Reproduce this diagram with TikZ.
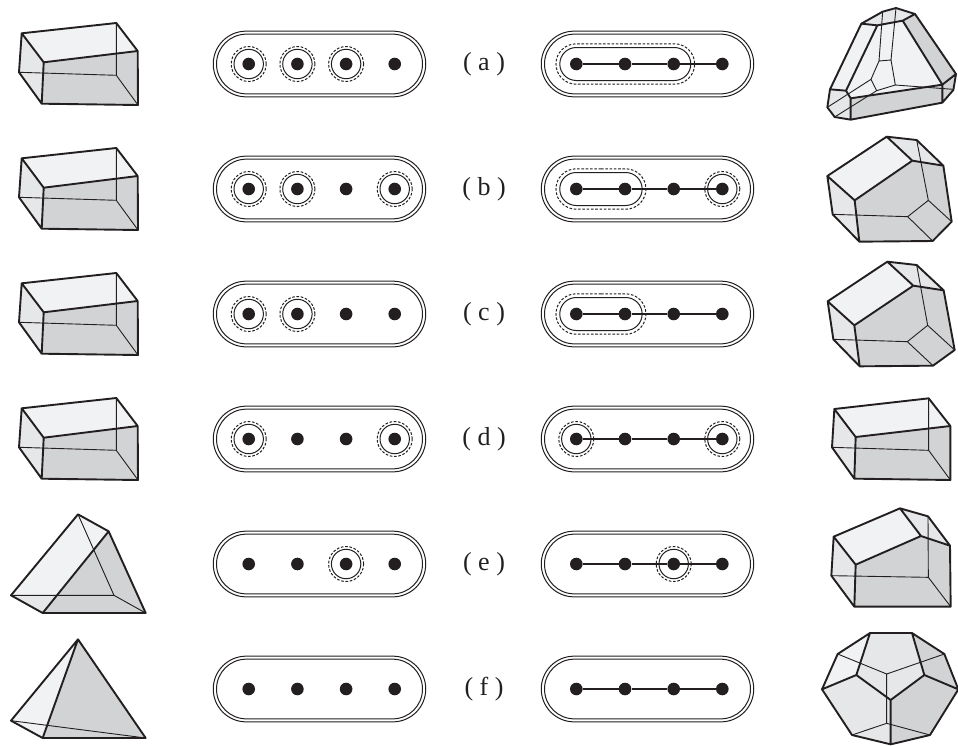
\documentclass[tikz,border=0pt]{standalone}
\usepackage{fontspec}
\setmainfont{Liberation Serif}
\usetikzlibrary{shapes.misc,calc}
\definecolor{ink}{HTML}{231F20}
\definecolor{lightf}{HTML}{F1F2F3}
\definecolor{midf}{HTML}{E6E7E8}
\definecolor{darkf}{HTML}{D1D3D4}
\tikzset{
  heavy/.style={draw=ink,line width=1.9pt,line join=round,line cap=round},
  fine/.style={draw=ink,line width=.9pt,line cap=round},
  dotn/.style={circle,fill=ink,inner sep=0pt,minimum size=12.6pt},
  capsule/.style={rounded rectangle,draw=ink,line width=1pt,inner sep=0pt},
  outercap/.style={capsule,minimum width=212.5pt,minimum height=65.7pt},
  innercap/.style={capsule,minimum width=206pt,minimum height=59.7pt},
  ringsolid/.style={circle,draw=ink,line width=1pt,inner sep=0pt,minimum size=29.4pt},
  ringdash/.style={circle,draw=ink,line width=1pt,dash pattern=on 2.6pt off 1.7pt,inner sep=0pt,minimum size=35pt},
  grpsolid/.style={capsule,minimum height=33pt},
  grpdash/.style={capsule,minimum height=40.4pt,dash pattern=on 2.6pt off 1.7pt},
  bond/.style={draw=ink,line width=1.6pt},
  lab/.style={font=\fontsize{26}{26}\selectfont,inner sep=0pt,text=ink},
  zoomed/.style={x=.33333pt,y=-.33333pt}
}
% one schema: prefix, x-offset of first dot, y
\newcommand\capsules[3]{%
  \node[outercap] (#1o) at (#2,#3) {};
  \node[innercap] (#1i) at (#2,#3) {};
}
\newcommand\fourdots[3]{%
  \node[dotn] (#11) at (#2,#3) {};
  \node[dotn] (#12) at (#2+48.7,#3) {};
  \node[dotn] (#13) at (#2+97.4,#3) {};
  \node[dotn] (#14) at (#2+146,#3) {};
}
\newcommand\bonds[1]{\draw[bond] (#11) -- (#12) -- (#13) -- (#14);}
\newcommand\ring[1]{%
  \node[ringsolid] (#1s) at (#1) {};
  \node[ringdash] (#1d) at (#1) {};
}
\newcommand\grpthree[1]{%
  \node[grpsolid,minimum width=131pt] (#1gs) at ($(#11)!.5!(#13)+(.3,0)$) {};
  \node[grpdash,minimum width=138.7pt] (#1gd) at ($(#11)!.5!(#13)+(.3,0)$) {};
}
\newcommand\grptwo[1]{%
  \node[grpsolid,minimum width=82.4pt] (#1gs) at ($(#11)!.5!(#12)+(.3,0)$) {};
  \node[grpdash,minimum width=90pt] (#1gd) at ($(#11)!.5!(#12)+(.3,0)$) {};
}
% prism: A B C D E F G H
\newcommand\prism[8]{%
  \fill[lightf] #1--#2--#3--#4--cycle;
  \fill[midf] #1--#4--#6--#5--cycle;
  \fill[darkf] #4--#3--#7--#6--cycle;
  \draw[fine] #5--#8 #2--#8--#7;
  \draw[heavy] #1--#2--#3--#4--cycle #4--#6 #1--#5--#6--#7--#3;
}
\begin{document}
\begin{tikzpicture}[x=1pt,y=-1pt]
\useasboundingbox (0,0) rectangle (958,745);
% ---- left column prisms
\prism{(21.7,33.3)}{(116.3,23)}{(137.7,51)}{(43.7,62.3)}{(19,72.3)}{(41.7,103.7)}{(138,105)}{(116.3,75.3)}
\prism{(21.7,158.3)}{(116.3,148)}{(137.7,176)}{(43.7,187.7)}{(19,197.3)}{(41.7,228.7)}{(138,230)}{(116.3,200.3)}
\prism{(21.7,283.3)}{(116.3,273)}{(137.7,301)}{(43.7,312.3)}{(19,322.3)}{(41.7,353.7)}{(138,355)}{(116.3,325.3)}
\prism{(21.7,408.3)}{(116.3,398)}{(137.7,426)}{(43.7,437.7)}{(19,447.3)}{(41.7,478.7)}{(138,480)}{(116.3,450.3)}
% row e left
\begin{scope}[shift={(0,490)},zoomed]
\fill[lightf] (33,316)--(234,73)--(326,124)--(128,369)--cycle;
\fill[midf] (33,316)--(128,369)--(170,316)--cycle;
\fill[darkf] (326,124)--(437,369)--(128,369)--cycle;
\draw[fine] (33,316)--(342,316) (234,73)--(342,316)--(437,369);
\draw[heavy] (33,316)--(234,73)--(326,124)--(437,369)--(128,369)--cycle (326,124)--(128,369);
\end{scope}
% row f left
\begin{scope}[shift={(0,490)},zoomed]
\fill[lightf] (33,692)--(234,448)--(128,744)--cycle;
\fill[darkf] (234,448)--(437,744)--(128,744)--cycle;
\draw[fine] (33,692)--(437,744);
\draw[heavy] (33,692)--(234,448)--(437,744)--(128,744)--cycle (234,448)--(128,744);
\end{scope}
% ---- right column
% row a
\begin{scope}[shift={(820,0)},zoomed]
\fill[midf] (124,71)--(188,35)--(228,24)--(285,42)--(248,62)--(172,76)--cycle;
\fill[lightf] (124,71)--(172,76)--(78,272)--(30,268)--cycle;
\fill[lightf] (172,76)--(248,62)--(367,254)--(92,295)--(78,272)--cycle;
\fill[midf] (30,268)--(78,272)--(92,295)--(92,359)--(44,351)--(22,322)--cycle;
\fill[darkf] (285,42)--(408,222)--(367,254)--(248,62)--cycle;
\fill[darkf] (92,295)--(367,254)--(367,308)--(92,359)--cycle;
\fill[darkf] (367,254)--(408,222)--(400,270)--(367,308)--cycle;
\draw[fine] (188,35)--(177,183)--(213,180)--(228,24) (213,180)--(226,255)--(170,272)--(153,238)--(177,183)
  (226,255)--(400,268) (153,238)--(22,322) (170,272)--(44,351);
\draw[heavy] (124,71)--(188,35)--(228,24)--(285,42)--(408,222)--(400,270)--(367,308)--(92,359)--(44,351)--(22,322)--(30,268)--cycle
  (124,71)--(172,76)--(248,62)--(285,42) (248,62)--(367,254)--(408,222) (367,254)--(367,308)
  (172,76)--(78,272)--(30,268) (78,272)--(92,295)--(367,254) (92,295)--(92,359);
\end{scope}
% row b
\begin{scope}[shift={(820,125)},zoomed]
\fill[darkf] (104,226)--(277,107)--(370,122)--(395,290)--(338,348)--(118,350)--cycle;
\fill[lightf] (22,153)--(200,35)--(277,107)--(104,226)--cycle;
\fill[midf] (22,153)--(104,226)--(118,350)--(38,268)--cycle;
\fill[midf] (200,35)--(290,45)--(370,122)--(277,107)--cycle;
\draw[fine] (38,268)--(263,275)--(325,226)--(290,45) (263,275)--(338,348) (325,226)--(395,290);
\draw[heavy] (22,153)--(200,35)--(290,45)--(370,122)--(395,290)--(338,348)--(118,350)--(38,268)--cycle
  (22,153)--(104,226)--(277,107)--(200,35) (277,107)--(370,122) (104,226)--(118,350);
\end{scope}
% row c
\begin{scope}[shift={(790,240)},zoomed]
\fill[darkf] (193,256)--(370,137)--(461,151)--(494,330)--(429,377)--(209,379)--cycle;
\fill[lightf] (113,184)--(292,65)--(370,137)--(193,256)--cycle;
\fill[midf] (113,184)--(193,256)--(209,379)--(130,298)--cycle;
\fill[midf] (292,65)--(380,75)--(461,151)--(370,137)--cycle;
\draw[fine] (130,298)--(352,305)--(413,256)--(380,75) (352,305)--(429,377) (413,256)--(494,330);
\draw[heavy] (113,184)--(292,65)--(380,75)--(461,151)--(494,330)--(429,377)--(209,379)--(130,298)--cycle
  (113,184)--(193,256)--(370,137)--(292,65) (370,137)--(461,151) (193,256)--(209,379);
\end{scope}
% row d
\begin{scope}[shift={(790,240)},zoomed]
\prism{(133,507)}{(416,475)}{(481,558)}{(197,591)}{(126,622)}{(193,716)}{(481,720)}{(416,631)}
\end{scope}
% row e
\begin{scope}[shift={(790,480)},zoomed]
\fill[darkf] (197,254)--(393,168)--(480,197)--(482,380)--(193,380)--cycle;
\fill[lightf] (131,170)--(330,85)--(393,168)--(197,254)--cycle;
\fill[midf] (131,170)--(197,254)--(193,380)--(124,287)--cycle;
\fill[midf] (330,85)--(414,109)--(480,197)--(393,168)--cycle;
\draw[fine] (124,287)--(415,292)--(414,109) (415,292)--(482,380);
\draw[heavy] (131,170)--(330,85)--(414,109)--(480,197)--(482,380)--(193,380)--(124,287)--cycle
  (131,170)--(197,254)--(393,168)--(330,85) (393,168)--(480,197) (197,254)--(193,380);
\end{scope}
% row f dodecahedron
\begin{scope}[shift={(790,480)},zoomed]
\fill[midf] (240,459)--(366,459)--(403,585)--(302,660)--(199,585)--cycle;
\fill[lightf] (143,522)--(240,459)--(199,585)--(96,628)--cycle;
\fill[darkf] (366,459)--(463,522)--(505,628)--(403,585)--cycle;
\fill[midf] (96,628)--(199,585)--(302,660)--(302,793)--(186,765)--cycle;
\fill[darkf] (505,628)--(403,585)--(302,660)--(302,793)--(420,765)--cycle;
\draw[fine] (143,522)--(290,582)--(463,522) (290,582)--(290,730)--(186,765) (290,730)--(420,765);
\draw[heavy] (240,459)--(366,459)--(463,522)--(505,628)--(420,765)--(302,793)--(186,765)--(96,628)--(143,522)--cycle
  (96,628)--(199,585)--(240,459) (199,585)--(302,660)--(403,585)--(366,459) (403,585)--(505,628) (302,660)--(302,793);
\end{scope}
% ---- schemas
\capsules{la}{319.5}{64} \fourdots{la}{248.7}{64}
\capsules{ra}{647.5}{64} \fourdots{ra}{576.3}{64}
\capsules{lb}{319.5}{189} \fourdots{lb}{248.7}{189}
\capsules{rb}{647.5}{189} \fourdots{rb}{576.3}{189}
\capsules{lc}{319.5}{314} \fourdots{lc}{248.7}{314}
\capsules{rc}{647.5}{314} \fourdots{rc}{576.3}{314}
\capsules{ld}{319.5}{439} \fourdots{ld}{248.7}{439}
\capsules{rd}{647.5}{439} \fourdots{rd}{576.3}{439}
\capsules{le}{319.5}{564} \fourdots{le}{248.7}{564}
\capsules{re}{647.5}{564} \fourdots{re}{576.3}{564}
\capsules{lf}{319.5}{689} \fourdots{lf}{248.7}{689}
\capsules{rf}{647.5}{689} \fourdots{rf}{576.3}{689}
\bonds{ra}\bonds{rb}\bonds{rc}\bonds{rd}\bonds{re}\bonds{rf}
\ring{la1}\ring{la2}\ring{la3}
\ring{lb1}\ring{lb2}\ring{lb4}
\ring{lc1}\ring{lc2}
\ring{ld1}\ring{ld4}
\ring{le3}
\grpthree{ra}
\grptwo{rb}\ring{rb4}
\grptwo{rc}
\ring{rd1}\ring{rd4}
\ring{re3}
% ---- labels
\node[lab] (ta) at (484,64) {( a )};
\node[lab] (tb) at (484,189) {( b )};
\node[lab] (tc) at (484,314) {( c )};
\node[lab] (td) at (484,439) {( d )};
\node[lab] (te) at (484,564) {( e )};
\node[lab] (tf) at (484,689) {( f )};
\end{tikzpicture}
\end{document}
